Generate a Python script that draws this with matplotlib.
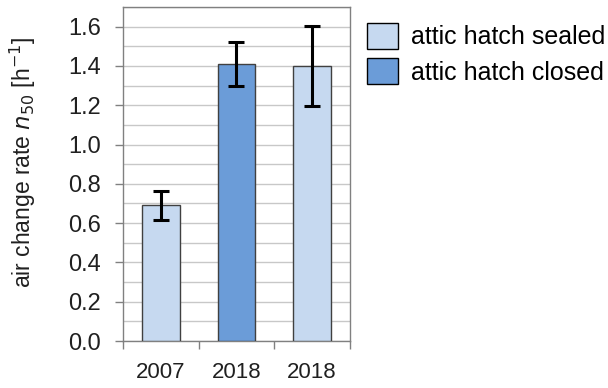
import numpy as np
import matplotlib.pyplot as plt
from matplotlib.patches import Patch
from matplotlib.ticker import MultipleLocator

plt.rcParams['font.family'] = ['Liberation Sans', 'DejaVu Sans']

years = ['2007', '2018', '2018']
n50 = [0.69, 1.41, 1.40]
n50_err = [0.075, 0.11, 0.205]
state = ['sealed', 'closed', 'sealed']

colors = {'sealed': '#c6d9f0', 'closed': '#6b9cd8'}
edge = '#404040'

fig = plt.figure(figsize=(6.08, 3.88), dpi=100)
ax = fig.add_axes([123/608, 1 - 341/388, 227/608, 334/388])

x = np.arange(len(years))
ax.bar(x, n50, width=0.5, color=[colors[s] for s in state],
       edgecolor=edge, linewidth=1.0, zorder=3)
ax.errorbar(x, n50, yerr=n50_err, fmt='none', ecolor='black',
            elinewidth=2.2, capsize=6, capthick=2.2, zorder=4)

ax.set_xlim(-0.5, 2.5)
ax.set_ylim(0, 1.7)
ax.yaxis.set_major_locator(MultipleLocator(0.2))
ax.yaxis.set_minor_locator(MultipleLocator(0.1))
ax.grid(axis='y', which='both', color='#c8c8c8', linewidth=1.0, zorder=0)
ax.set_yticks(np.arange(0, 1.61, 0.2))
ax.set_yticklabels([f'{v:.1f}' for v in np.arange(0, 1.61, 0.2)])
ax.tick_params(axis='y', which='minor', length=0)
ax.tick_params(axis='y', which='major', length=6, width=1, color='#808080',
               labelsize=17, pad=10, labelcolor='#202020')

# category labels in the middle, tick marks on the boundaries
ax.set_xticks(x)
ax.set_xticklabels(years)
ax.set_xticks(np.arange(-0.5, 2.6, 1.0), minor=True)
ax.tick_params(axis='x', which='major', length=0, labelsize=16, pad=15,
               labelcolor='#202020')
ax.tick_params(axis='x', which='minor', length=6, width=1, color='#808080')

for sp in ax.spines.values():
    sp.set_color('#808080')
    sp.set_linewidth(1.0)

ax.set_ylabel(r'air change rate $\mathit{n}_{50}$ [h$^{-1}$]', fontsize=16.5,
              color='#202020')
ax.yaxis.set_label_coords(-0.375, 0.535)

handles = [Patch(facecolor=colors['sealed'], edgecolor='black', label='attic hatch sealed'),
           Patch(facecolor=colors['closed'], edgecolor='black', label='attic hatch closed')]
fig.legend(handles=handles, loc='upper left', bbox_to_anchor=(367/608, 1 - 23/388),
           frameon=False, fontsize=18, handlelength=1.25, handleheight=1.2,
           handletextpad=0.5, labelspacing=0.36, borderaxespad=0, borderpad=0)

fig.savefig('out.png', dpi=100)
